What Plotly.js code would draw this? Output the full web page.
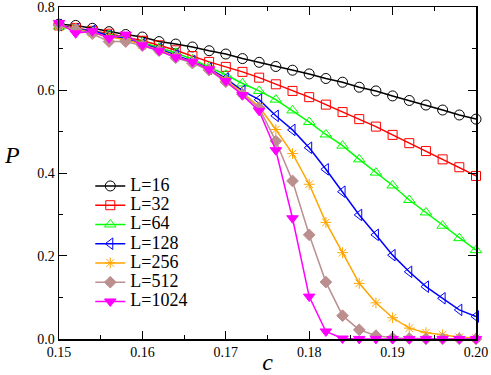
<!DOCTYPE html>
<html>
<head>
<meta charset="utf-8">
<script src="https://cdn.plot.ly/plotly-3.0.1.min.js"></script>
<style>html,body{margin:0;padding:0;background:#fff;}#chart{width:491px;height:375px;}</style>
</head>
<body>
<div id="chart"></div>
<script>
const c = [0.150,0.152,0.154,0.156,0.158,0.160,0.162,0.164,0.166,0.168,0.170,0.172,0.174,
           0.176,0.178,0.180,0.182,0.184,0.186,0.188,0.190,0.192,0.194,0.196,0.198,0.200];
const L16 = [0.759,0.756,0.749,0.741,0.734,0.728,0.717,0.711,0.704,0.695,0.687,0.676,0.667,
             0.657,0.648,0.639,0.628,0.619,0.607,0.598,0.586,0.575,0.564,0.552,0.540,0.530];
const L32 = [0.756,0.750,0.743,0.736,0.728,0.719,0.708,0.696,0.682,0.668,0.656,0.644,0.630,
             0.614,0.598,0.583,0.565,0.547,0.530,0.512,0.492,0.472,0.453,0.433,0.414,0.393];
const L64 = [0.753,0.748,0.742,0.733,0.726,0.715,0.702,0.690,0.674,0.656,0.637,0.616,0.598,
             0.577,0.551,0.523,0.493,0.466,0.433,0.401,0.370,0.335,0.305,0.273,0.243,0.214];
const L128 = [0.757,0.747,0.743,0.731,0.724,0.711,0.700,0.684,0.670,0.652,0.628,0.598,0.577,
              0.538,0.504,0.461,0.409,0.355,0.299,0.251,0.202,0.162,0.126,0.098,0.070,0.054];
const L256 = [0.752,0.748,0.738,0.728,0.722,0.709,0.697,0.681,0.668,0.651,0.624,0.594,0.560,
              0.505,0.447,0.373,0.281,0.208,0.134,0.087,0.051,0.026,0.015,0.010,0.004,0.002];
const L512 = [0.756,0.746,0.736,0.717,0.717,0.707,0.695,0.678,0.665,0.648,0.620,0.590,0.557,
              0.477,0.381,0.251,0.137,0.056,0.022,0.008,0.002,0.001,0.000,0.000,0.000,0.000];
const L1024 = [0.762,0.737,0.742,0.725,0.734,0.708,0.695,0.679,0.668,0.650,0.622,0.588,0.550,
               0.455,0.291,0.102,0.018,0.001,0.000,0.000,0.000,0.000,0.000,0.000,0.000,0.000];
const seriesNames = ['L=16','L=32','L=64','L=128','L=256','L=512','L=1024'];
const xTickVals = [0.15,0.16,0.17,0.18,0.19,0.20];
const xTickLabels = ['0.15','0.16','0.17','0.18','0.19','0.20'];
const yTickVals = [0,0.2,0.4,0.6,0.8];
const yTickLabels = ['0.0','0.2','0.4','0.6','0.8'];

const ys = [L16, L32, L64, L128, L256, L512, L1024];
const colors = ['#000000','#ff0000','#00ff00','#0000ff','#ffa500','#bc8f8f','#ff00ff'];
const symbols = ['circle-open','square-open','triangle-up-open','triangle-left-open','asterisk-open','diamond','triangle-down'];
const sizes = [10,9,10,10,9,9,10];
const serif = 'Liberation Serif, Times New Roman, serif';

const traces = ys.map((y,i)=>({
  x: c, y: y, type:'scatter', mode:'lines+markers', cliponaxis:false,
  name: '<span style="font-size:18px">' + seriesNames[i] + '</span>',
  line:{color:colors[i], width:1.5},
  marker:{symbol:symbols[i], size:sizes[i], color:colors[i], line:{color:colors[i], width:1}}
}));

const layout = {
  width:491, height:375,
  margin:{l:59, r:15, t:7, b:36},
  paper_bgcolor:'#fff', plot_bgcolor:'#fff',
  showlegend:true,
  legend:{x:0.075, y:0.505, xanchor:'left', yanchor:'top', bgcolor:'rgba(0,0,0,0)',
          font:{family:serif, size:12.5, color:'#000'}, tracegroupgap:0, itemwidth:30},
  xaxis:{range:[0.15,0.20], tickvals:xTickVals, ticktext:xTickLabels,
         ticks:'inside', ticklen:8, tickwidth:1, tickcolor:'#000',
         minor:{dtick:0.005, tick0:0.15, ticks:'inside', ticklen:4, tickcolor:'#000', showgrid:false},
         showline:true, linecolor:'#000', linewidth:1.5, mirror:'ticks', showgrid:false, zeroline:false,
         tickfont:{family:serif, size:14, color:'#000'},
         title:{text:'<i>c</i>', font:{family:serif, size:24, color:'#000'}, standoff:2}},
  yaxis:{range:[-0.0002,0.8004], tickvals:yTickVals, ticktext:yTickLabels,
         ticks:'inside', ticklen:8, tickwidth:1, tickcolor:'#000',
         minor:{dtick:0.1, tick0:0, ticks:'inside', ticklen:4, tickcolor:'#000', showgrid:false},
         showline:true, linecolor:'#000', linewidth:1.5, mirror:'ticks', showgrid:false, zeroline:false,
         tickfont:{family:serif, size:14, color:'#000'}},
  annotations:[{text:'<i>P</i>', xref:'paper', yref:'paper', x:-0.113, y:0.554,
                xanchor:'center', yanchor:'middle', showarrow:false,
                font:{family:serif, size:24, color:'#000'}}]
};
Plotly.newPlot('chart', traces, layout, {displayModeBar:false, staticPlot:true});
</script>
</body>
</html>
